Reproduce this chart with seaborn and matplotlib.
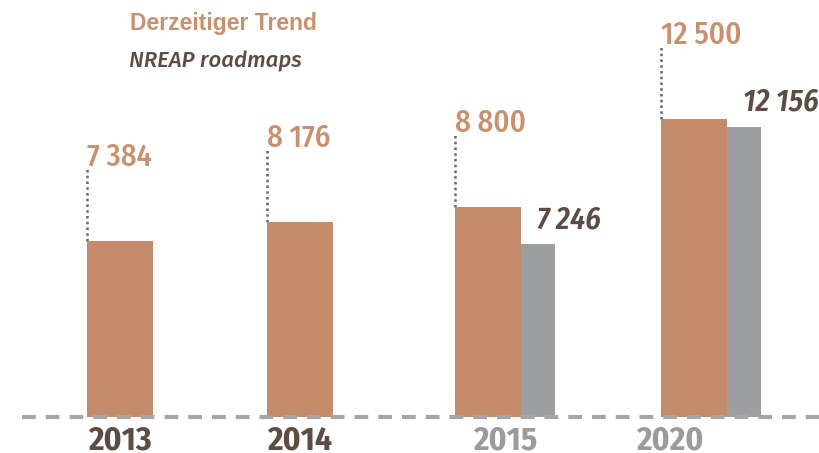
import matplotlib
matplotlib.use('Agg')
from matplotlib import pyplot as plt
import numpy as np
import seaborn as sns

sns.set_theme(style='white')
plt.rcParams['font.family'] = ['Fira Sans Condensed', 'DejaVu Sans']

jahre = ['2013', '2014', '2015', '2020']
trend = [7384, 8176, 8800, 12500]
nreap = [np.nan, np.nan, 7246, 12156]
trend_labels = ['7 384', '8 176', '8 800', '12 500']
nreap_labels = ['', '', '7 246', '12 156']

braun = '#c48b6b'
braun_text = '#c8906e'
grau = '#9d9e9f'
dunkel = '#5c4c42'
grau_text = '#9b9b9b'

# layout (pixel positions)
links = [87, 267, 455, 661]
breite_t = 66
breite_n = 34
tick_x = [120, 300, 505, 670]
tick_farbe = [dunkel, dunkel, grau_text, grau_text]

fig = plt.figure(figsize=(8.2, 4.53), dpi=100)
ax = fig.add_axes([0, 0, 1, 1])
upp = 41.9
ax.set_xlim(0, 820)
ax.set_ylim(-36 * upp, (453 - 36) * upp)
ax.axis('off')


def py(y):
    # pixel row from top -> data units
    return (417 - y) * upp


for i, jahr in enumerate(jahre):
    x0 = links[i]
    ax.bar(x0, trend[i], width=breite_t, align='edge', color=braun, lw=0, zorder=2)
    ax.plot([x0, x0], [trend[i], trend[i] + 74 * upp], ls=(0, (1, 1.3)),
            color='#6b6461', lw=1.8, zorder=1)
    ax.annotate(trend_labels[i], xy=(x0, trend[i]), xytext=(0, 75),
                textcoords='offset pixels', va='baseline', ha='left',
                fontsize=22, fontweight='medium', color=braun_text)
    if not np.isnan(nreap[i]):
        xn = x0 + breite_t
        ax.bar(xn, nreap[i], width=breite_n, align='edge', color=grau, lw=0, zorder=2)
        ax.annotate(nreap_labels[i], xy=(xn, nreap[i]), xytext=(16, 16),
                    textcoords='offset pixels', va='baseline', ha='left',
                    fontsize=22, color=dunkel, fontweight='semibold', style='italic')
    ax.text(tick_x[i], py(449), jahr, ha='center', va='baseline',
            fontsize=24, fontweight='bold', color=tick_farbe[i])

ax.plot([22, 820], [0, 0], color='#a6a6a6', lw=3, ls=(0, (3.3, 2.4)), zorder=3)

ax.text(130, py(30), 'Derzeitiger Trend', fontsize=16.5, fontweight='bold',
        color=braun_text, family='Liberation Sans', va='baseline')
ax.text(129, py(67), 'NREAP roadmaps', fontsize=16, style='italic',
        fontweight='medium', color=dunkel, family='Fira Sans', va='baseline')

fig.savefig('out.png', dpi=100)
